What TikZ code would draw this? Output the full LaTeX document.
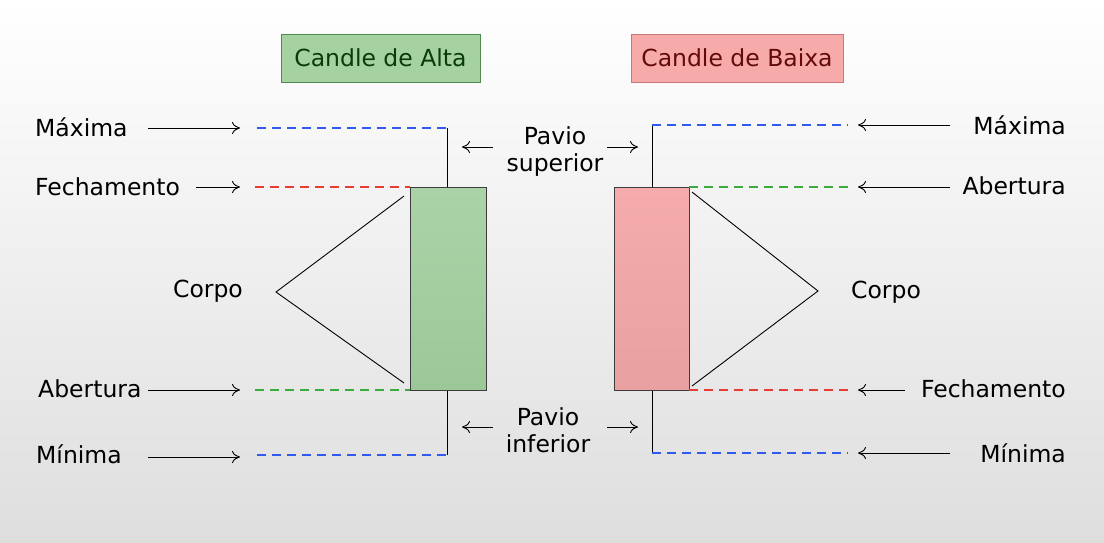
\documentclass[tikz,border=0pt]{standalone}
\usepackage{fontspec}
\setmainfont{DejaVu Sans}
\usetikzlibrary{arrows.meta}
\begin{document}
\begin{tikzpicture}[x=1pt,y=-1pt,
  lbl/.style={font=\fontsize{23.5}{27}\selectfont, inner sep=0pt},
  arr/.style={-{To[length=8pt,width=12pt]}, line width=0.9pt},
  dashline/.style={dash pattern=on 9pt off 6pt, line width=2pt},
  thin/.style={line width=0.9pt},
  bluel/.style={dashline, draw={rgb,255:red,50;green,90;blue,240}},
  redl/.style={dashline, draw={rgb,255:red,230;green,60;blue,50}},
  greenl/.style={dashline, draw={rgb,255:red,60;green,170;blue,60}}]
\shade[top color=white, bottom color={rgb,255:red,222;green,222;blue,222}] (0,0) rectangle (1104,542);
\useasboundingbox (0,0) rectangle (1104,542);
% titles
\node[lbl, draw={rgb,255:red,80;green,140;blue,80}, fill={rgb,255:red,165;green,210;blue,160}, text={rgb,255:red,10;green,60;blue,10}, minimum width=199pt, minimum height=48pt] (ta) at (380.5,58) {Candle de Alta};
\node[lbl, draw={rgb,255:red,200;green,120;blue,120}, fill={rgb,255:red,246;green,170;blue,170}, text={rgb,255:red,100;green,10;blue,10}, minimum width=212pt, minimum height=48pt] (tb) at (737,58) {Candle de Baixa};
% left candle
\coordinate (lwt) at (447,128); \coordinate (lwb) at (447,455);
\draw[thin] (lwt) -- (447,187); \draw[thin] (447,390) -- (lwb);
\shade[top color={rgb,255:red,170;green,212;blue,168}, bottom color={rgb,255:red,156;green,200;blue,152}, draw={rgb,255:red,60;green,60;blue,60}, thin] (410,187) rectangle (486,390);
\coordinate (lb1) at (410,187); \coordinate (lb2) at (410,390);
% left labels
\node[lbl, anchor=west] (lmax) at (35,127) {Máxima};
\node[lbl, anchor=west] (lfec) at (35,187) {Fechamento};
\node[lbl, anchor=west] (lab) at (38,389) {Abertura};
\node[lbl, anchor=west] (lmin) at (36,454) {Mínima};
\node[lbl] (lcorpo) at (208,291) {Corpo};
\coordinate (la1s) at (148,128); \coordinate (la1e) at (240,128);
\coordinate (la2s) at (196,187); \coordinate (la2e) at (240,187);
\coordinate (la3s) at (148,390); \coordinate (la3e) at (240,390);
\coordinate (la4s) at (148,457); \coordinate (la4e) at (240,457);
\draw[arr] (la1s) -- (la1e); \draw[arr] (la2s) -- (la2e);
\draw[arr] (la3s) -- (la3e); \draw[arr] (la4s) -- (la4e);
\draw[bluel] (257,128) -- (lwt);
\draw[redl] (255,187) -- (lb1);
\draw[greenl] (255,390) -- (lb2);
\draw[bluel] (257,455) -- (lwb);
\draw[thin] (404,196) -- (276,292) -- (404,383);
% pavio labels
\node[lbl, align=center] (ps) at (555,152) {Pavio\\superior};
\node[lbl, align=center] (pi) at (548,430) {Pavio\\inferior};
\coordinate (ps1) at (493,147); \coordinate (ps1e) at (462,147);
\coordinate (ps2) at (607,147); \coordinate (ps2e) at (638,147);
\coordinate (pi1) at (493,427); \coordinate (pi1e) at (462,427);
\coordinate (pi2) at (607,427); \coordinate (pi2e) at (638,427);
\draw[arr] (ps1) -- (ps1e); \draw[arr] (ps2) -- (ps2e);
\draw[arr] (pi1) -- (pi1e); \draw[arr] (pi2) -- (pi2e);
% right candle
\coordinate (rwt) at (652,125); \coordinate (rwb) at (652,453);
\draw[thin] (rwt) -- (652,187); \draw[thin] (652,390) -- (rwb);
\shade[top color={rgb,255:red,246;green,172;blue,172}, bottom color={rgb,255:red,232;green,160;blue,160}, draw={rgb,255:red,60;green,60;blue,60}, thin] (614,187) rectangle (689,390);
\coordinate (rb1) at (689,187); \coordinate (rb2) at (689,390);
\node[lbl, anchor=east] (rmax) at (1066,125) {Máxima};
\node[lbl, anchor=east] (rab) at (1066,186) {Abertura};
\node[lbl, anchor=east] (rfec) at (1066,389) {Fechamento};
\node[lbl, anchor=east] (rmin) at (1066,453) {Mínima};
\node[lbl] (rcorpo) at (886,292) {Corpo};
\coordinate (ra1s) at (950,125); \coordinate (ra1e) at (858,125);
\coordinate (ra2s) at (950,187); \coordinate (ra2e) at (858,187);
\coordinate (ra3s) at (905,390); \coordinate (ra3e) at (858,390);
\coordinate (ra4s) at (950,453); \coordinate (ra4e) at (858,453);
\draw[arr] (ra1s) -- (ra1e); \draw[arr] (ra2s) -- (ra2e);
\draw[arr] (ra3s) -- (ra3e); \draw[arr] (ra4s) -- (ra4e);
\draw[bluel] (rwt) -- (848,125);
\draw[greenl] (rb1) -- (848,187);
\draw[redl] (rb2) -- (848,390);
\draw[bluel] (rwb) -- (848,453);
\draw[thin] (692,192) -- (818,291) -- (692,386);
\end{tikzpicture}
\end{document}
